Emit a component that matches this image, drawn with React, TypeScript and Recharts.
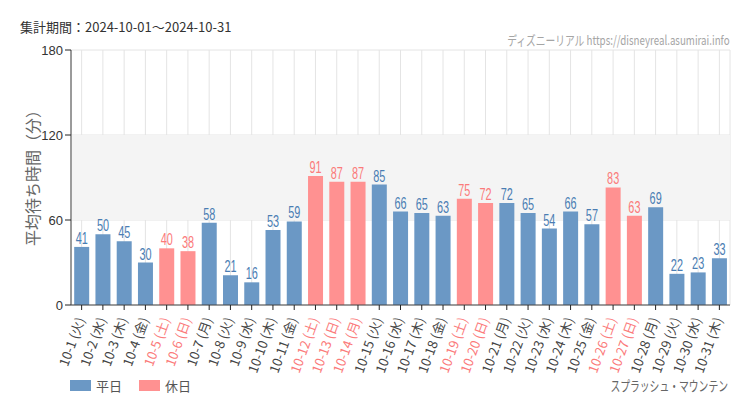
import React from 'react';
import { BarChart, Bar, XAxis, YAxis, CartesianGrid, Cell, LabelList, ReferenceArea } from 'recharts';

const days = ['10-1','10-2','10-3','10-4','10-5','10-6','10-7','10-8','10-9','10-10','10-11','10-12','10-13','10-14','10-15','10-16','10-17','10-18','10-19','10-20','10-21','10-22','10-23','10-24','10-25','10-26','10-27','10-28','10-29','10-30','10-31'];
const weekdays = ['火','水','木','金','土','日','月','火','水','木','金','土','日','月','火','水','木','金','土','日','月','火','水','木','金','土','日','月','火','水','木'];
const waits = [41,50,45,30,40,38,58,21,16,53,59,91,87,87,85,66,65,63,75,72,72,65,54,66,57,83,63,69,22,23,33];
const holidays = [false,false,false,false,true,true,false,false,false,false,false,true,true,true,false,false,false,false,true,true,false,false,false,false,false,true,true,false,false,false,false];
const yTicks = [0, 60, 120, 180];

const BLUE = '#6b98c5';
const PINK = '#ff9191';
const BLUE_TXT = '#4a7db3';
const PINK_TXT = '#fb7a7a';
const LAT = "'Liberation Sans', Arial, sans-serif";
const SANS = "'Noto Sans CJK JP', 'Noto Sans', sans-serif";

const data = days.map((d, i) => ({ name: `${d} (${weekdays[i]})`, value: waits[i], holiday: holidays[i] }));

const XTick = (props: any) => {
  const { x, y, payload, index } = props;
  const hol = holidays[index];
  return (
    <g transform={`translate(${x},${y + 4})`}>
      <text transform="rotate(-70)" textAnchor="end" dy="0.35em" x={-2} y={0} fontSize={13} fontFamily={SANS} fill={hol ? PINK_TXT : '#444'}>
        {payload.value}
      </text>
    </g>
  );
};

const BarLabel = (props: any) => {
  const { x, y, width, value, index } = props;
  const hol = holidays[index];
  return (
    <text transform={`translate(${x + width / 2},${y - 3}) scale(0.68,1)`} x={0} y={0} textAnchor="middle" fontSize={16} fontFamily={LAT} fill={hol ? PINK_TXT : BLUE_TXT}>
      {value}
    </text>
  );
};

const squeeze = (sx: number, origin: string): React.CSSProperties => ({ transform: `scaleX(${sx})`, transformOrigin: origin, whiteSpace: 'nowrap' });

export default function App() {
  return (
    <div style={{ position: 'absolute', left: 0, top: 0, width: 750, height: 410, background: '#fff' }}>
      <BarChart width={750} height={410} data={data} margin={{ top: 50, right: 20, left: 21, bottom: 40 }} barCategoryGap="15%">
        <ReferenceArea y1={60} y2={120} fill="#f4f4f4" fillOpacity={1} stroke="none" />
        <CartesianGrid stroke="#e4e4e4" vertical={true} horizontal={true} />
        <XAxis dataKey="name" interval={0} tick={<XTick />} height={65} axisLine={{ stroke: '#444' }} tickLine={{ stroke: '#222' }} tickSize={5} />
        <YAxis domain={[0, 180]} ticks={yTicks} width={50} axisLine={{ stroke: '#444' }} tickLine={{ stroke: '#222' }} tick={{ fontSize: 13, fill: '#333', fontFamily: LAT }} />
        <Bar dataKey="value" isAnimationActive={false}>
          {data.map((d, i) => (
            <Cell key={i} fill={d.holiday ? PINK : BLUE} />
          ))}
          <LabelList dataKey="value" content={<BarLabel />} />
        </Bar>
      </BarChart>
      <div style={{ position: 'absolute', left: 20, top: 17, fontSize: 13, color: '#333', fontFamily: SANS, ...squeeze(1.0, 'left center') }}>
        集計期間：2024-10-01～2024-10-31
      </div>
      <div style={{ position: 'absolute', right: 20, top: 30, fontSize: 13, color: '#a5a5a5', fontFamily: SANS, ...squeeze(0.75, 'right center') }}>
        ディズニーリアル https://disneyreal.asumirai.info
      </div>
      <div style={{ position: 'absolute', left: 32, top: 174, transform: 'translate(-50%, -50%) rotate(-90deg)', fontSize: 16, color: '#666', fontFamily: SANS, whiteSpace: 'nowrap' }}>
        平均待ち時間（分）
      </div>
      <div style={{ position: 'absolute', left: 70, top: 376, display: 'flex', alignItems: 'center', fontSize: 13, color: '#555', fontFamily: SANS }}>
        <span style={{ display: 'inline-block', width: 21, height: 11, background: BLUE, marginRight: 5 }} />
        <span style={{ marginRight: 17 }}>平日</span>
        <span style={{ display: 'inline-block', width: 21, height: 11, background: PINK, marginRight: 5 }} />
        <span>休日</span>
      </div>
      <div style={{ position: 'absolute', right: 22, top: 375, fontSize: 14, color: '#666', fontFamily: SANS, ...squeeze(0.7, 'right center') }}>
        スプラッシュ・マウンテン
      </div>
    </div>
  );
}
